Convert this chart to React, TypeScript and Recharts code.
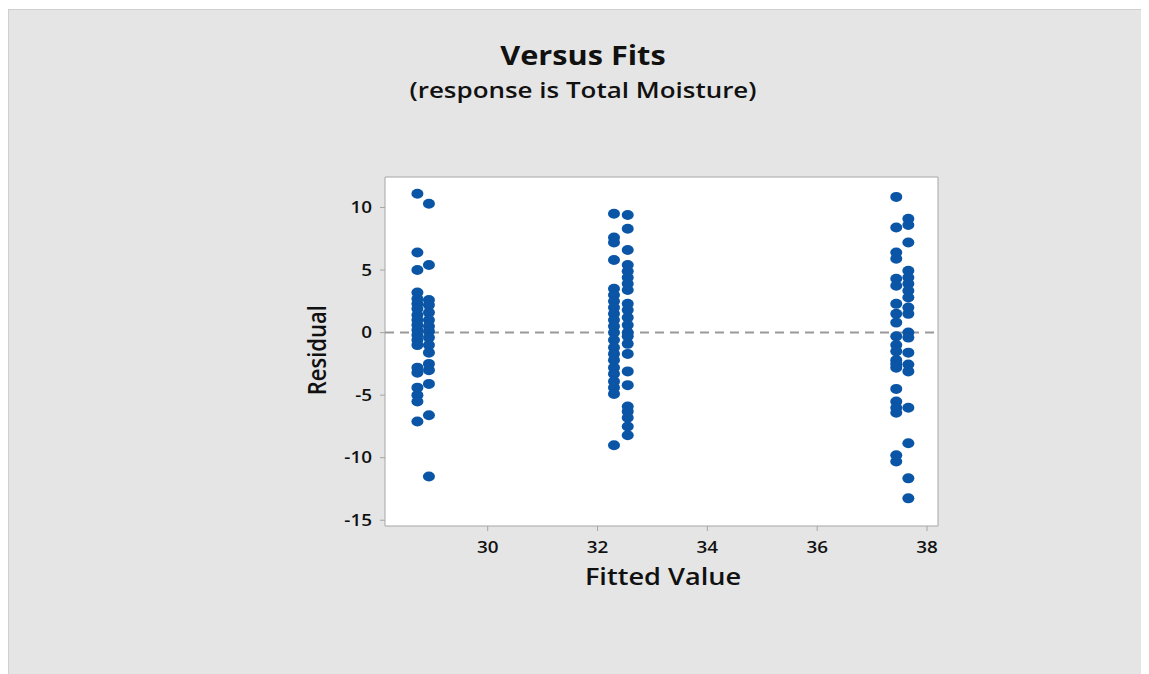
import { ScatterChart, Scatter, XAxis, YAxis, ReferenceLine, ReferenceArea } from "recharts";

// fitted values (the three groups are each split into two close fits)
const FITS = [28.72, 28.93, 32.3, 32.55, 37.44, 37.66];

// residuals, one list per fitted value
const RESID_A = [11.1, 6.4, 5.0, 3.2, 2.7, 2.3, 1.9, 1.4, 1.0, 0.6, 0.2, -0.2, -0.6, -1.0, -2.8, -3.2, -4.4, -5.0, -5.5, -7.1];
const RESID_B = [10.3, 5.4, 2.6, 2.2, 1.6, 1.0, 0.5, 0.1, -0.4, -1.0, -1.6, -2.5, -3.0, -4.1, -6.6, -11.5];
const RESID_C = [9.5, 7.6, 7.2, 5.8, 3.5, 3.0, 2.5, 2.0, 1.5, 1.0, 0.5, 0.0, -0.6, -1.2, -1.7, -2.2, -2.8, -3.3, -3.9, -4.4, -4.9, -9.0];
const RESID_D = [9.4, 8.3, 6.6, 5.4, 4.9, 4.4, 3.9, 3.4, 2.3, 1.8, 1.2, 0.6, 0.0, -0.3, -0.9, -1.7, -3.1, -4.2, -5.9, -6.3, -6.8, -7.5, -8.2];
const RESID_E = [10.85, 8.4, 6.4, 5.9, 4.3, 3.75, 2.3, 1.5, 0.8, -0.3, -1.0, -1.5, -2.2, -2.5, -2.8, -4.5, -5.5, -6.0, -6.4, -9.8, -10.3];
const RESID_F = [9.1, 8.6, 7.2, 4.95, 4.4, 3.9, 3.35, 2.8, 2.0, 1.5, 0.0, -0.4, -1.6, -2.55, -3.1, -6.0, -8.85, -11.65, -13.25];

const X_TICKS = [30, 32, 34, 36, 38];
const Y_TICKS = [-15, -10, -5, 0, 5, 10];

const X_DOMAIN = [28.13, 38.2];
const Y_DOMAIN = [-15.46, 12.44];

const DOT = "#0A55A6";
const FONT = "'Open Sans', 'Noto Sans', sans-serif";
// the reference image is stretched sideways a little, text too
const STRETCH = 1.18;

const groups = [RESID_A, RESID_B, RESID_C, RESID_D, RESID_E, RESID_F];
const points = groups.flatMap((res, i) => res.map((r) => ({ fit: FITS[i], resid: r })));

function Blob(props: any) {
  const { cx, cy } = props;
  if (cx == null || cy == null) return null;
  return <ellipse cx={cx} cy={cy} rx={6} ry={5} fill={DOT} />;
}

function XTick({ x, y, payload }: any) {
  return (
    <text
      transform={`translate(${x},${y}) scale(${STRETCH},1)`}
      textAnchor="middle"
      dy="0.72em"
      fill="#111"
      fontSize={16}
      fontWeight={600}
      fontFamily={FONT}
    >
      {payload.value}
    </text>
  );
}

function YTick({ x, y, payload }: any) {
  return (
    <text
      transform={`translate(${x},${y}) scale(${STRETCH},1)`}
      textAnchor="end"
      dy="0.36em"
      fill="#111"
      fontSize={16}
      fontWeight={600}
      fontFamily={FONT}
    >
      {payload.value}
    </text>
  );
}

export default function App() {
  const stretched = () => ({ transform: `scaleX(${STRETCH})`, transformOrigin: "center" });
  return (
    <div style={{ position: "relative", height: 666 }}>
      <div
        style={{
          position: "absolute",
          left: 0,
          top: 1,
          width: 1141,
          height: 665,
          background: "#e5e5e5",
          borderTop: "1px solid #cfcfcf",
          borderLeft: "1px solid #cfcfcf",
          boxSizing: "border-box",
          fontFamily: FONT,
          color: "#111",
        }}
      >
        <div style={{ position: "absolute", left: 474, width: 200, top: 30, textAlign: "center", fontSize: 26, fontWeight: 700, lineHeight: 1.2, ...stretched() }}>
          Versus Fits
        </div>
        <div style={{ position: "absolute", left: 374, width: 400, top: 66, textAlign: "center", fontSize: 22, fontWeight: 600, lineHeight: 1.2, ...stretched() }}>
          (response is Total Moisture)
        </div>
        <ScatterChart width={1140} height={664} margin={{ top: 167, right: 211, bottom: 118, left: 316 }}>
          <ReferenceArea
            x1={X_DOMAIN[0]}
            x2={X_DOMAIN[1]}
            y1={Y_DOMAIN[0]}
            y2={Y_DOMAIN[1]}
            fill="#ffffff"
            fillOpacity={1}
            stroke="#a6a6a6"
            strokeWidth={1}
          />
          <XAxis
            type="number"
            dataKey="fit"
            domain={X_DOMAIN}
            ticks={X_TICKS}
            allowDataOverflow
            axisLine={false}
            tickLine={{ stroke: "#a6a6a6" }}
            tickSize={5}
            tickMargin={10}
            tick={XTick}
            height={30}
          />
          <YAxis
            type="number"
            dataKey="resid"
            domain={Y_DOMAIN}
            ticks={Y_TICKS}
            allowDataOverflow
            axisLine={false}
            tickLine={{ stroke: "#a6a6a6" }}
            tickSize={5}
            tickMargin={8}
            tick={YTick}
            width={60}
          />
          <ReferenceLine y={0} stroke="#999" strokeWidth={2} strokeDasharray="9 6" />
          <Scatter data={points} fill={DOT} shape={Blob} isAnimationActive={false} />
        </ScatterChart>
        <div style={{ position: "absolute", left: 554, width: 200, top: 553, textAlign: "center", fontSize: 23, fontWeight: 600, lineHeight: 1.2, ...stretched() }}>
          Fitted Value
        </div>
        <div
          style={{
            position: "absolute",
            left: 207,
            width: 200,
            top: 327,
            textAlign: "center",
            fontSize: 22,
            fontWeight: 600,
            lineHeight: 1.2,
            transform: `rotate(-90deg) scaleY(${STRETCH})`,
            transformOrigin: "center",
          }}
        >
          Residual
        </div>
      </div>
    </div>
  );
}
